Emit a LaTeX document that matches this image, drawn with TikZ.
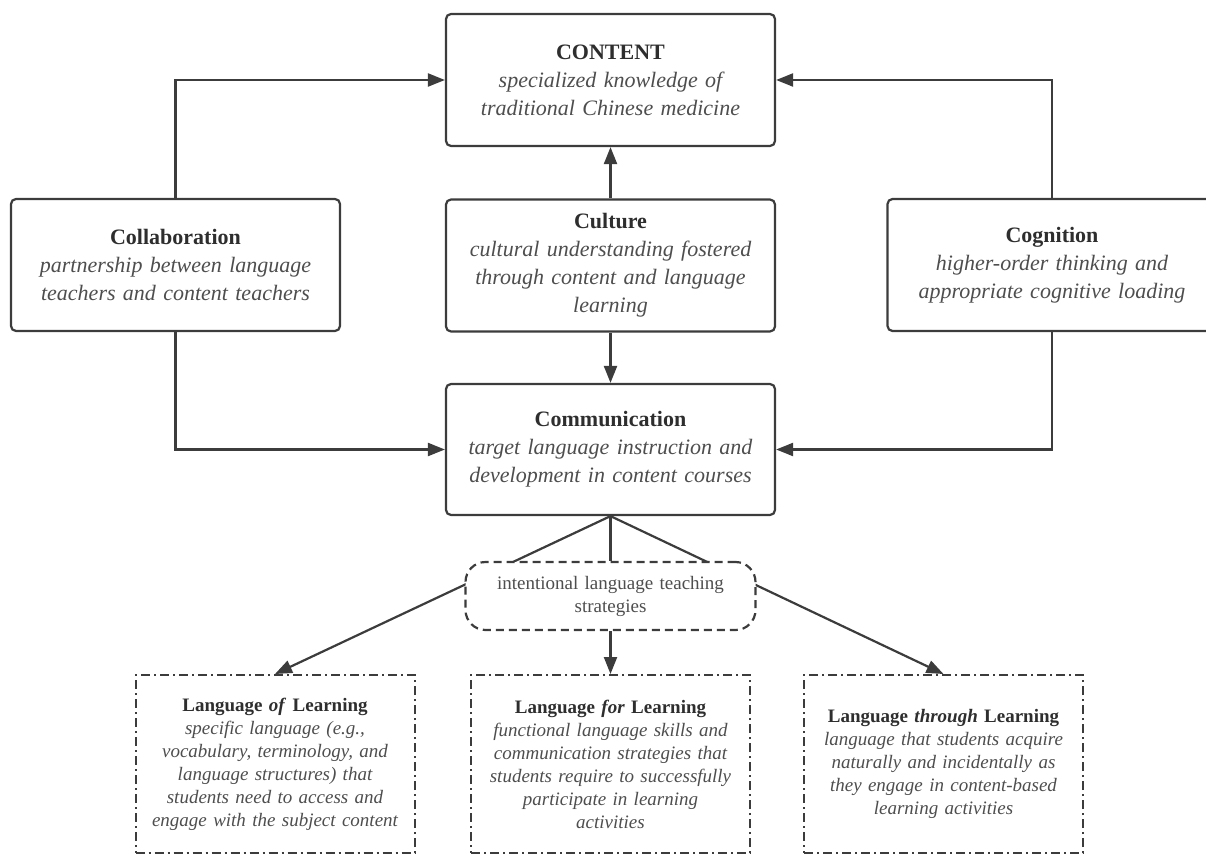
\documentclass[tikz,border=0pt]{standalone}
\usepackage{fontspec}
\setmainfont{Liberation Serif}
\usetikzlibrary{arrows.meta}
\definecolor{edgec}{HTML}{3C3C3C}
\definecolor{ttlc}{HTML}{2E2E2E}
\definecolor{bdyc}{HTML}{4E4E4E}
\newcommand{\hdr}[1]{{\color{ttlc}\bfseries #1}}
\newcommand{\dsc}[1]{{\color{bdyc}\itshape #1}}
\tikzset{
  box/.style={draw=edgec, line width=2.2pt, rounded corners=5pt, fill=white,
    align=center, inner sep=0pt, text width=320pt, minimum width=329pt,
    minimum height=132pt, font=\fontsize{22}{28}\selectfont},
  lbox/.style={draw=edgec, line width=2pt, dash pattern=on 9pt off 4pt on 2pt off 4pt,
    fill=white, align=center, inner sep=0pt, text width=272pt, minimum width=279pt,
    minimum height=178pt, font=\fontsize{19}{23}\selectfont},
  sbox/.style={draw=edgec, line width=2.2pt, dash pattern=on 8pt off 5pt,
    rounded corners=20pt, fill=white, align=center, inner sep=0pt,
    text width=280pt, minimum width=290pt, minimum height=68pt,
    font=\fontsize{19}{23}\selectfont, text=bdyc},
  conn/.style={draw=edgec, line width=2.2pt, -{Triangle[length=17pt,width=13pt]}},
  plainline/.style={draw=edgec, line width=2.2pt},
}
\begin{document}
\begin{tikzpicture}[x=1pt,y=-1pt]
\useasboundingbox (0,0) rectangle (1206,858);
\clip (0,0) rectangle (1206,858);

\node[box] (content) at (610.5,80)
  {\hdr{CONTENT}\\ \dsc{specialized knowledge of}\\ \dsc{traditional Chinese medicine}};
\node[box] (collab) at (175.5,265)
  {\hdr{Collaboration}\\ \dsc{partnership between language}\\ \dsc{teachers and content teachers}};
\node[box] (culture) at (610.5,265.5)
  {\hdr{Culture}\\ \dsc{cultural understanding fostered}\\ \dsc{through content and language}\\ \dsc{learning}};
\node[box] (cognition) at (1052,265)
  {\hdr{Cognition}\\ \dsc{higher-order thinking and}\\ \dsc{appropriate cognitive loading}};
\node[box, minimum height=131pt] (comm) at (610.5,449.5)
  {\hdr{Communication}\\ \dsc{target language instruction and}\\ \dsc{development in content courses}};

\node[lbox] (lof) at (275,764)
  {\hdr{Language \textit{of} Learning}\\ \dsc{specific language (e.g.,}\\ \dsc{vocabulary, terminology, and}\\ \dsc{language structures) that}\\ \dsc{students need to access and}\\ \dsc{engage with the subject content}};
\node[lbox] (lfor) at (610.5,764)
  {\hdr{Language \textit{for} Learning}\\ \dsc{functional language skills and}\\ \dsc{communication strategies that}\\ \dsc{students require to successfully}\\ \dsc{participate in learning}\\ \dsc{activities}};
\node[lbox] (lthr) at (943.5,764)
  {\hdr{Language \textit{through} Learning}\\ \dsc{language that students acquire}\\ \dsc{naturally and incidentally as}\\ \dsc{they engage in content-based}\\ \dsc{learning activities}};

% lines that pass behind the strategies box
\draw[conn] (comm.south) -- (lof.north);
\draw[conn] (comm.south) -- (lthr.north);

\node[sbox] (strat) at (610.5,596)
  {intentional language teaching\\ strategies};

\draw[plainline] (comm.south) -- (strat.north);
\draw[conn] (strat.south) -- (lfor.north);

\draw[conn] (collab.north) |- (content.west);
\draw[conn] (collab.south) |- (comm.west);
\draw[conn] (cognition.north) |- (content.east);
\draw[conn] (cognition.south) |- (comm.east);
\draw[conn] (culture.north) -- (content.south);
\draw[conn] (culture.south) -- (comm.north);
\end{tikzpicture}
\end{document}
